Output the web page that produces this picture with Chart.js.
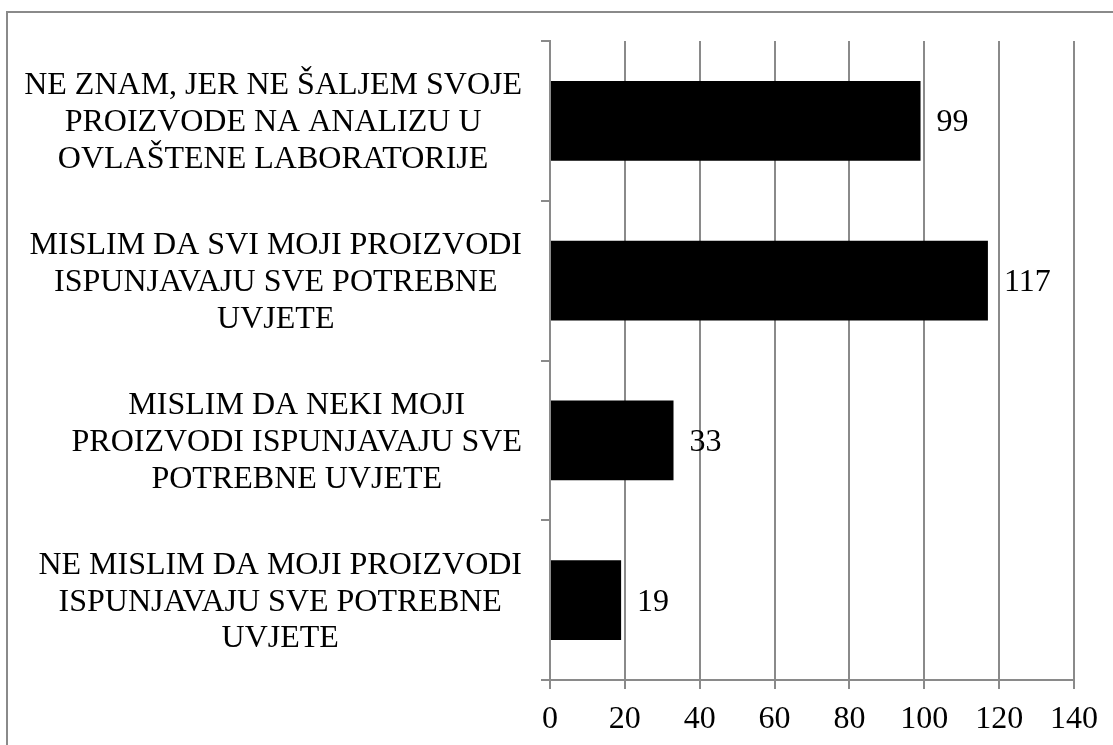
<!DOCTYPE html>
<html>
<head>
<meta charset="utf-8">
<title>Proizvodi i potrebni uvjeti</title>
<script src="https://cdn.jsdelivr.net/npm/chart.js@4.4.0/dist/chart.umd.min.js"></script>
<style>
  html, body { margin: 0; padding: 0; background: #ffffff; }
  #wrap { width: 1113px; height: 745px; }
</style>
</head>
<body>
<div id="wrap"><canvas id="c" width="1113" height="745"></canvas></div>
<script>
// Survey answers, one entry per bar (top to bottom), each split into its printed lines
const categories = [
  ["NE ZNAM, JER NE ŠALJEM SVOJE", "PROIZVODE NA ANALIZU U", "OVLAŠTENE LABORATORIJE"],
  ["MISLIM DA SVI MOJI PROIZVODI", "ISPUNJAVAJU SVE POTREBNE", "UVJETE"],
  ["MISLIM DA NEKI MOJI", "PROIZVODI ISPUNJAVAJU SVE", "POTREBNE UVJETE"],
  ["NE MISLIM DA MOJI PROIZVODI", "ISPUNJAVAJU SVE POTREBNE", "UVJETE"]
];
const counts = [99, 117, 33, 19];
const axisMin = 0;
const axisMax = 140;
const axisStep = 20;

const FONT = '"Liberation Serif", "Times New Roman", Times, serif';
const GRAY = '#8a8a8a';
const FONT_SIZE = 32;

// Outer frame of the chart (only top and left edges fall inside the canvas)
const framePlugin = {
  id: 'frame',
  beforeDraw(chart) {
    const ctx = chart.ctx;
    ctx.save();
    ctx.fillStyle = '#ffffff';
    ctx.fillRect(0, 0, chart.width, chart.height);
    ctx.strokeStyle = GRAY;
    ctx.lineWidth = 2;
    ctx.beginPath();
    ctx.moveTo(7, chart.height + 5);
    ctx.lineTo(7, 12);
    ctx.lineTo(chart.width + 5, 12);
    ctx.stroke();
    ctx.restore();
  }
};

// Category labels: each block centred on itself, block flush against the axis
const categoryLabelPlugin = {
  id: 'categoryLabels',
  afterDraw(chart) {
    const ctx = chart.ctx;
    const yScale = chart.scales.y;
    const right = yScale.right - 28;
    const lineH = FONT_SIZE * 1.15;
    ctx.save();
    ctx.font = FONT_SIZE + 'px ' + FONT;
    ctx.fillStyle = '#000000';
    ctx.textAlign = 'center';
    ctx.textBaseline = 'middle';
    categories.forEach((lines, i) => {
      const y = yScale.getPixelForValue(i);
      const maxW = Math.max(...lines.map(l => ctx.measureText(l).width));
      const cx = right - maxW / 2;
      const y0 = y - (lines.length - 1) * lineH / 2;
      lines.forEach((l, k) => ctx.fillText(l, cx, y0 + k * lineH + 2));
    });
    ctx.restore();
  }
};

// Value printed just past the end of each bar
const valueLabelPlugin = {
  id: 'valueLabels',
  afterDatasetsDraw(chart) {
    const ctx = chart.ctx;
    const meta = chart.getDatasetMeta(0);
    const xScale = chart.scales.x;
    ctx.save();
    ctx.font = FONT_SIZE + 'px ' + FONT;
    ctx.fillStyle = '#000000';
    ctx.textAlign = 'left';
    ctx.textBaseline = 'middle';
    meta.data.forEach((bar, i) => {
      const v = chart.data.datasets[0].data[i];
      ctx.fillText(String(v), xScale.getPixelForValue(v) + 16, bar.y + 2);
    });
    ctx.restore();
  }
};

new Chart(document.getElementById('c'), {
  type: 'bar',
  data: {
    labels: categories,
    datasets: [{
      data: counts,
      backgroundColor: '#000000',
      borderWidth: 0,
      categoryPercentage: 1.0,
      barPercentage: 0.5
    }]
  },
  options: {
    indexAxis: 'y',
    responsive: false,
    animation: false,
    devicePixelRatio: 1,
    layout: { padding: { left: 0, top: 41, right: 39, bottom: 0 } },
    plugins: {
      legend: { display: false },
      tooltip: { enabled: false },
      title: { display: false }
    },
    scales: {
      x: {
        type: 'linear',
        min: axisMin,
        max: axisMax,
        ticks: {
          stepSize: axisStep,
          color: '#000000',
          font: { family: FONT, size: FONT_SIZE },
          padding: 11,
          maxRotation: 0
        },
        grid: {
          color: GRAY,
          lineWidth: 2,
          tickLength: 9,
          drawOnChartArea: true
        },
        border: { display: true, color: GRAY, width: 2 },
        afterFit(scale) { scale.height = 65; }
      },
      y: {
        type: 'category',
        offset: true,
        ticks: { display: false },
        grid: {
          color: GRAY,
          lineWidth: 2,
          tickLength: 9,
          drawOnChartArea: false,
          offset: true
        },
        border: { display: true, color: GRAY, width: 2 },
        afterFit(scale) { scale.width = 550; }
      }
    }
  },
  plugins: [framePlugin, categoryLabelPlugin, valueLabelPlugin]
});
</script>
</body>
</html>
